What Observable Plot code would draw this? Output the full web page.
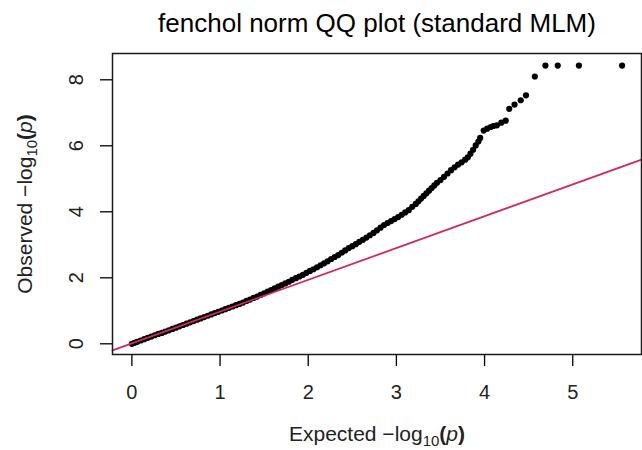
<!DOCTYPE html>
<html>
<head>
<meta charset="utf-8">
<script src="https://cdn.jsdelivr.net/npm/d3@7"></script>
<script src="https://cdn.jsdelivr.net/npm/@observablehq/plot@0.6"></script>
<style>
  html, body { margin: 0; padding: 0; background: #ffffff; }
  #chart { width: 642px; height: 450px; }
</style>
</head>
<body>
<div id="chart"></div>
<script>
// ---- Data ----
const titleText = "fenchol norm QQ plot (standard MLM)";
const xLabelText = "Expected −log10(p)";
const yLabelText = "Observed −log10(p)";

const xTicks = [0, 1, 2, 3, 4, 5];
const yTicks = [0, 2, 4, 6, 8];

// expected -log10(p)
const expectedP = [
  0.00, 0.03, 0.06, 0.10, 0.14, 0.18, 0.22, 0.26, 0.30, 0.34,
  0.38, 0.42, 0.46, 0.50, 0.54, 0.58, 0.62, 0.66, 0.70, 0.74,
  0.78, 0.82, 0.86, 0.90, 0.94, 0.98, 1.02, 1.06, 1.10, 1.14,
  1.18, 1.22, 1.26, 1.30, 1.34, 1.38, 1.42, 1.46, 1.50, 1.54,
  1.58, 1.62, 1.66, 1.70, 1.74, 1.78, 1.82, 1.86, 1.90, 1.94,
  1.98, 2.02, 2.06, 2.10, 2.14, 2.18, 2.22, 2.26, 2.30, 2.34,
  2.38, 2.42, 2.46, 2.50, 2.54, 2.58, 2.62, 2.66, 2.70, 2.74,
  2.78, 2.82, 2.86, 2.90, 2.94, 2.98, 3.02, 3.06, 3.10, 3.14,
  3.18, 3.22, 3.25, 3.28, 3.31, 3.34, 3.37, 3.40, 3.43, 3.46,
  3.50, 3.54, 3.58, 3.62, 3.66, 3.70, 3.74, 3.78, 3.81, 3.84,
  3.87, 3.90, 3.93, 3.95, 3.99, 4.03, 4.07, 4.10, 4.14, 4.19,
  4.24, 4.28, 4.34, 4.41, 4.47, 4.57, 4.69, 4.83, 5.07, 5.56
];
// observed -log10(p)
const observedP = [
  0.00, 0.03, 0.06, 0.10, 0.14, 0.18, 0.22, 0.26, 0.30, 0.33,
  0.37, 0.41, 0.45, 0.49, 0.53, 0.57, 0.61, 0.65, 0.69, 0.73,
  0.77, 0.81, 0.85, 0.89, 0.93, 0.97, 1.01, 1.05, 1.09, 1.13,
  1.17, 1.21, 1.25, 1.30, 1.34, 1.39, 1.43, 1.48, 1.53, 1.58,
  1.63, 1.68, 1.73, 1.78, 1.83, 1.88, 1.94, 1.99, 2.04, 2.09,
  2.15, 2.21, 2.26, 2.32, 2.38, 2.44, 2.50, 2.57, 2.63, 2.69,
  2.76, 2.83, 2.90, 2.96, 3.02, 3.09, 3.15, 3.22, 3.29, 3.36,
  3.44, 3.52, 3.60, 3.66, 3.72, 3.78, 3.84, 3.91, 3.98, 4.05,
  4.15, 4.24, 4.32, 4.40, 4.48, 4.56, 4.64, 4.72, 4.80, 4.88,
  4.96, 5.06, 5.16, 5.26, 5.35, 5.43, 5.50, 5.58, 5.65, 5.76,
  5.88, 6.01, 6.13, 6.24, 6.46, 6.52, 6.57, 6.60, 6.62, 6.70,
  6.76, 7.12, 7.25, 7.38, 7.53, 8.10, 8.43, 8.43, 8.43, 8.43
];

// reference line end points (as drawn in the picture)
const refLineX = [-0.22, 5.78];
const refLineY = [-0.20, 5.58];

// ---- Build tables ----
const points = expectedP.map((e, i) => ({expected: e, observed: observedP[i]}));
const refLine = refLineX.map((x, i) => ({x, y: refLineY[i]}));

const FONT = "'Liberation Sans', Arial, Helvetica, sans-serif";

const chart = Plot.plot({
  width: 642,
  height: 450,
  marginLeft: 112,
  marginRight: 1,
  marginTop: 53,
  marginBottom: 96,
  style: {background: "#ffffff", color: "#000000", fontFamily: FONT},
  x: {domain: [-0.22, 5.78], axis: null},
  y: {domain: [-0.324, 8.797], axis: null},
  marks: [
    Plot.dot(points, {x: "expected", y: "observed", r: 3.1, fill: "#000000", stroke: "none"}),
    Plot.line(refLine, {x: "x", y: "y", stroke: "#d42a5b", strokeWidth: 1.8}),
    Plot.frame({stroke: "#1a1a1a", strokeWidth: 1.5}),
    Plot.axisX({ticks: xTicks, tickSize: 12, tickFormat: () => "", label: null, strokeWidth: 1.3, anchor: "bottom"}),
    Plot.axisY({ticks: yTicks, tickSize: 12, tickFormat: () => "", label: null, strokeWidth: 1.3, anchor: "left"}),
    Plot.text(xTicks, {x: d => d, frameAnchor: "bottom", dy: 38, fontSize: 20, fill: "#222", text: d => String(d), lineAnchor: "middle"}),
    Plot.text(yTicks, {y: d => d, frameAnchor: "left", dx: -36, rotate: -90, fontSize: 20, fill: "#222", text: d => String(d), lineAnchor: "middle", textAnchor: "middle"}),
    Plot.text([titleText], {frameAnchor: "top", dy: -30, fontSize: 26, fill: "#000", text: d => d, lineAnchor: "middle"}),
    Plot.text([xLabelText], {frameAnchor: "bottom", dy: 80, fontSize: 21, fill: "#222", text: d => d, lineAnchor: "middle"}),
    Plot.text([yLabelText], {frameAnchor: "left", dx: -87, rotate: -90, fontSize: 21, fill: "#222", text: d => d, lineAnchor: "middle", textAnchor: "middle"})
  ]
});

document.getElementById("chart").appendChild(chart);

// subscripts / italics for the axis labels
d3.select(chart).selectAll("text").each(function() {
  const t = this.textContent;
  if (t === xLabelText || t === yLabelText) {
    const head = t === xLabelText ? "Expected −log" : "Observed −log";
    const el = d3.select(this);
    el.text("");
    el.append("tspan").text(head);
    el.append("tspan").attr("font-size", 15).attr("dy", 5).text("10");
    el.append("tspan").attr("dy", -5).attr("font-weight", "bold").text("(");
    el.append("tspan").attr("font-style", "italic").text("p");
    el.append("tspan").attr("font-weight", "bold").text(")");
  }
});
</script>
</body>
</html>
